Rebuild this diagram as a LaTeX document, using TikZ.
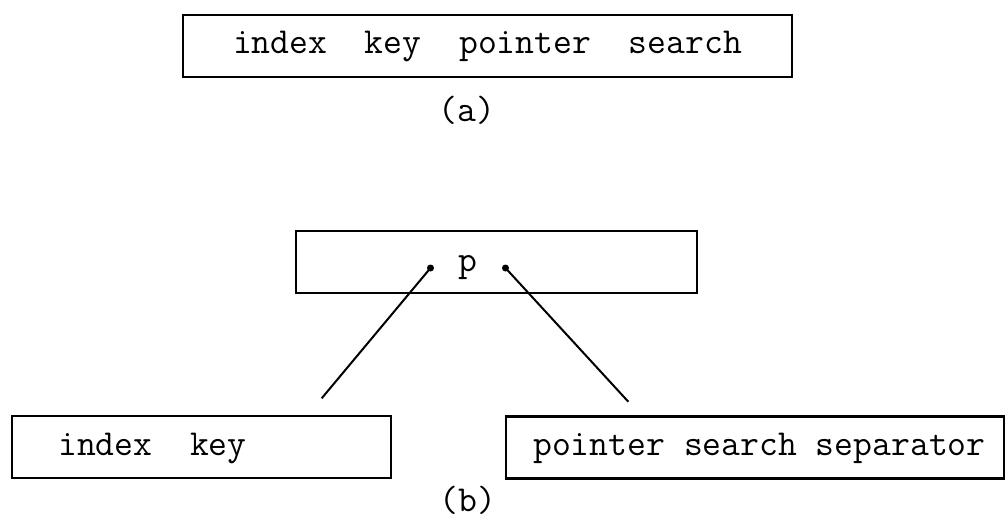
\documentclass[tikz,border=0pt]{standalone}
\usepackage{fontspec}
\begin{document}
\begin{tikzpicture}[x=1pt,y=-1pt,
  every node/.style={font=\ttfamily\fontsize{36.6}{40}\selectfont},
  field/.style={draw, rectangle, line width=2.6pt, inner sep=0pt, minimum height=62pt},
  txt/.style={inner sep=0pt},
  link/.style={line width=2pt},
  pin/.style={circle, fill, inner sep=0pt, minimum size=7pt}]
\useasboundingbox (0,0) rectangle (1006,520);

% (a) the whole record in one field
\node[field, minimum width=609pt, text height=22pt, text depth=7pt] (rec) at (487.5,46)
  {index\ \ key\ \ pointer\ \ search};
\node[txt] (capa) at (467,110) {(a)};

% (b) the split record: a pointer field and its two parts
\node[field, minimum width=401pt] (root) at (496.5,262) {};
\node[txt, anchor=base] (ptr) at (468,271) {p};
\node[pin] (dl) at (430.5,268) {};
\node[pin] (dr) at (505.5,268) {};
\coordinate (el) at (321.7,398.3);
\coordinate (er) at (628.3,401.7);
\draw[link] (dl.center) -- (el);
\draw[link] (dr.center) -- (er);

\node[field, minimum width=379pt] (left) at (201.5,447) {};
\node[txt, anchor=base west] (ltext) at (58,455) {index\ \ key};
\node[field, minimum width=498pt] (right) at (755,447.5) {};
\node[txt, anchor=base west] (rtext) at (533,455) {pointer search separator};
\node[txt] (capb) at (468,500) {(b)};
\end{tikzpicture}
\end{document}
